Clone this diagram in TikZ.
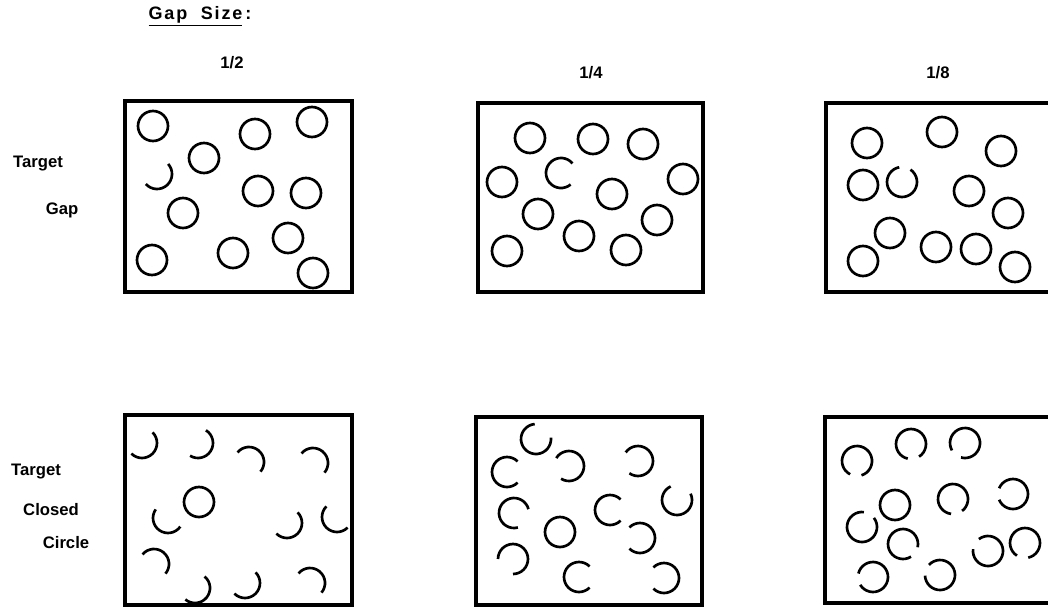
\documentclass[tikz,border=0pt]{standalone}
\usepackage{fontspec}
\setmainfont{Liberation Sans}
\usetikzlibrary{positioning}

% ring with an opening: centre x, centre y, direction of the opening, size of the opening
\newcommand{\gapring}[4]{%
  \pgfmathsetmacro{\ringfrom}{#3+#4/2}%
  \pgfmathsetmacro{\ringsweep}{360-#4}%
  \draw[ring] ([shift={(\ringfrom:15)}]#1,#2) arc[start angle=\ringfrom, delta angle=\ringsweep, radius=15];%
}

\begin{document}
\begin{tikzpicture}[
    x=0.75pt, y=-0.75pt,
    box/.style={line width=2.8pt},
    ring/.style={line width=2pt},
    lbl/.style={font=\fontsize{12.5}{15}\selectfont\bfseries, inner sep=0pt}
  ]
    \clip (0,0) rectangle (1048,611);

    % headings
    \node[lbl, font=\fontsize{13.5}{16}\selectfont\bfseries\addfontfeature{LetterSpace=10}] (gapsize) at (200,16) {\underline{Gap\ \ Size}\,:};
    \node[lbl] (half) at (232,63) {1/2};
    \node[lbl] (quarter) at (591,73) {1/4};
    \node[lbl] (eighth) at (938,73) {1/8};

    \node[lbl] (targettop) at (38,164) {Target};
    \node[lbl] (gaplbl) at (62,210) {Gap};
    \node[lbl] (targetbot) at (36,472) {Target};
    \node[lbl] (closedlbl) at (51,510) {Closed};
    \node[lbl] (circlelbl) at (66,543) {Circle};

    % frames
    \draw[box] (125,101) rectangle (352,292);
    \draw[box] (478,103) rectangle (703,292);
    \draw[box] (826,103) rectangle (1070,292);
    \draw[box] (125,415) rectangle (352,605);
    \draw[box] (476,417) rectangle (702,605);
    \draw[box] (825,417) rectangle (1070,603);

    % target gap, 1/2
    \foreach \x/\y in {153/126, 255/134, 312/122, 204/158, 258/191, 306/193, 183/213, 288/238, 152/260, 233/253, 313/273}
      \draw[ring] (\x,\y) circle[radius=15];
    \gapring{157}{174}{228}{180}

    % target gap, 1/4
    \foreach \x/\y in {530/138, 593/139, 643/144, 502/182, 683/179, 612/194, 538/214, 657/220, 579/236, 507/251, 626/250}
      \draw[ring] (\x,\y) circle[radius=15];
    \gapring{561}{173}{5}{90}

    % target gap, 1/8
    \foreach \x/\y in {867/143, 942/132, 1001/151, 863/185, 969/191, 1008/213, 890/233, 863/261, 936/247, 976/249, 1015/267}
      \draw[ring] (\x,\y) circle[radius=15];
    \gapring{902}{182}{282}{45}

    % closed circle, 1/2
    \draw[ring] (199,502) circle[radius=15];
    \foreach \x/\y/\d in {142/443/225, 198/443/212, 249/462/130, 313/463/130, 168/518/305, 287/523/225, 337/517/315, 154/564/130, 195/588/220, 245/583/225, 310/583/130}
      \gapring{\x}{\y}{\d}{180};

    % closed circle, 1/4
    \draw[ring] (560,532) circle[radius=15];
    \foreach \x/\y/\d in {536/439/310, 507/472/0, 569/466/167, 638/461/170, 677/500/290, 514/513/30, 610/510/0, 640/538/180, 513/559/135, 579/577/0, 664/578/180}
      \gapring{\x}{\y}{\d}{90};

    % closed circle, 1/8
    \draw[ring] (895,505) circle[radius=15];
    \foreach \x/\y/\d in {857/461/95, 911/444/80, 965/443/128, 1013/494/180, 953/499/75, 862/527/300, 903/544/35, 988/551/210, 1025/543/100, 873/577/171, 940/575/200}
      \gapring{\x}{\y}{\d}{45};
  \end{tikzpicture}
\end{document}
